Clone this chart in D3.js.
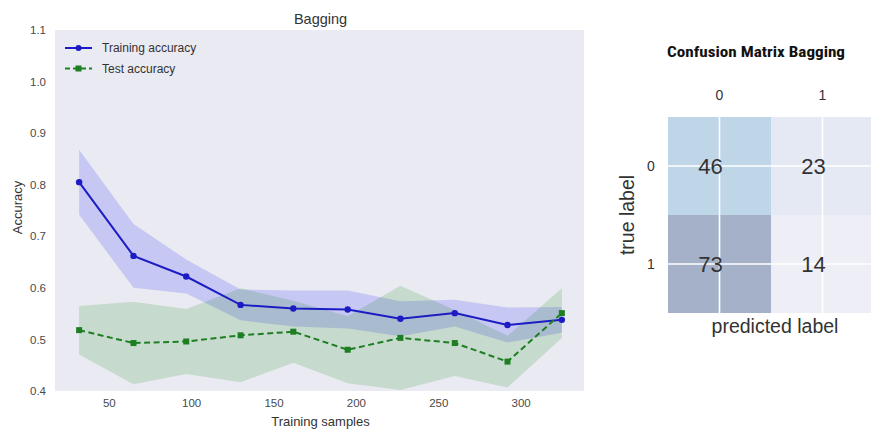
<!DOCTYPE html>
<html>
<head>
<meta charset="utf-8">
<script src="https://cdn.jsdelivr.net/npm/d3@7"></script>
<style>
  html, body { margin: 0; padding: 0; background: #ffffff; }
  svg { display: block; }
  text { font-family: "Liberation Sans", Arial, sans-serif; }
</style>
</head>
<body>
<svg id="chart" width="871" height="430"></svg>
<script>
// Learning curve data (training set size vs. accuracy)
const trainSizes = [32, 65, 97, 130, 162, 195, 227, 260, 292, 325];
const trainMean  = [0.805, 0.662, 0.622, 0.567, 0.560, 0.558, 0.540, 0.551, 0.528, 0.538];
const trainStd   = [0.063, 0.062, 0.033, 0.030, 0.035, 0.037, 0.034, 0.026, 0.034, 0.025];
const testMean   = [0.518, 0.493, 0.496, 0.508, 0.515, 0.480, 0.503, 0.493, 0.457, 0.551];
const testStd    = [0.047, 0.080, 0.063, 0.091, 0.060, 0.065, 0.101, 0.064, 0.050, 0.048];
const yTicks = [0.4, 0.5, 0.6, 0.7, 0.8, 0.9, 1.0, 1.1];
const xTicks = [50, 100, 150, 200, 250, 300];

// Confusion matrix
const classLabels = ["0", "1"];
const confusion = [
  [46, 23],
  [73, 14]
];

const svg = d3.select("#chart");
const facecolor = "#EAEAF2";
const tickColor = "#4a4a4a";

// ---------- Learning curve ----------
const plot = { left: 55, right: 584, top: 30, bottom: 391 };
const x = d3.scaleLinear().domain([17.35, 339.65]).range([plot.left, 586]);
const y = d3.scaleLinear().domain([0.4, 1.1]).range([plot.bottom, plot.top]);

svg.append("rect")
  .attr("x", plot.left).attr("y", plot.top)
  .attr("width", plot.right - plot.left).attr("height", plot.bottom - plot.top)
  .attr("fill", facecolor);

const trainData = trainSizes.map((s, i) => ({ s, m: trainMean[i], sd: trainStd[i] }));
const testData  = trainSizes.map((s, i) => ({ s, m: testMean[i], sd: testStd[i] }));

const band = d3.area()
  .x(d => x(d.s))
  .y0(d => y(d.m - d.sd))
  .y1(d => y(d.m + d.sd));
const line = d3.line().x(d => x(d.s)).y(d => y(d.m));

const trainColor = "#1c1cc4";
const testColor = "#1d7f22";

svg.append("path").datum(trainData).attr("d", band)
  .attr("fill", "#0000ff").attr("fill-opacity", 0.15);
svg.append("path").datum(testData).attr("d", band)
  .attr("fill", "#008000").attr("fill-opacity", 0.15);

svg.append("path").datum(trainData).attr("d", line)
  .attr("fill", "none").attr("stroke", trainColor).attr("stroke-width", 2);
svg.selectAll(".train-pt").data(trainData).enter().append("circle")
  .attr("cx", d => x(d.s)).attr("cy", d => y(d.m)).attr("r", 3.2)
  .attr("fill", trainColor);

svg.append("path").datum(testData).attr("d", line)
  .attr("fill", "none").attr("stroke", testColor).attr("stroke-width", 2)
  .attr("stroke-dasharray", "6,3.5");
svg.selectAll(".test-pt").data(testData).enter().append("rect")
  .attr("x", d => x(d.s) - 3).attr("y", d => y(d.m) - 3)
  .attr("width", 6).attr("height", 6)
  .attr("fill", testColor);

// Axes (no spines, no tick marks)
const yAxis = svg.append("g")
  .attr("transform", `translate(${plot.left},0)`)
  .call(d3.axisLeft(y).tickValues(yTicks).tickFormat(d3.format(".1f")).tickSize(0).tickPadding(9));
const xAxis = svg.append("g")
  .attr("transform", `translate(0,${plot.bottom})`)
  .call(d3.axisBottom(x).tickValues(xTicks).tickSize(0).tickPadding(8));
[xAxis, yAxis].forEach(g => {
  g.select(".domain").remove();
  g.selectAll("text").attr("fill", tickColor).style("font-size", "11.5px")
    .style("font-family", "'Liberation Sans', Arial, sans-serif");
});

svg.append("text")
  .attr("x", (plot.left + 586) / 2).attr("y", 24)
  .attr("text-anchor", "middle").attr("fill", "#333").style("font-size", "14.5px")
  .text("Bagging");
svg.append("text")
  .attr("x", (plot.left + 586) / 2).attr("y", 426)
  .attr("text-anchor", "middle").attr("fill", "#333").style("font-size", "13px")
  .text("Training samples");
svg.append("text")
  .attr("transform", `translate(22,${(plot.top + plot.bottom) / 2 - 3}) rotate(-90)`)
  .attr("text-anchor", "middle").attr("fill", "#333").style("font-size", "13px")
  .text("Accuracy");

// Legend
const legend = svg.append("g").attr("transform", "translate(65,48)");
const legendItems = [
  { label: "Training accuracy", color: trainColor, dash: null, marker: "circle" },
  { label: "Test accuracy", color: testColor, dash: "5,3", marker: "square" }
];
legendItems.forEach((it, i) => {
  const g = legend.append("g").attr("transform", `translate(0,${i * 20.5})`);
  g.append("line").attr("x1", 0).attr("x2", 27).attr("y1", 0).attr("y2", 0)
    .attr("stroke", it.color).attr("stroke-width", 2)
    .attr("stroke-dasharray", it.dash);
  if (it.marker === "circle") {
    g.append("circle").attr("cx", 13.5).attr("cy", 0).attr("r", 3).attr("fill", it.color);
  } else {
    g.append("rect").attr("x", 10.5).attr("y", -3).attr("width", 6).attr("height", 6).attr("fill", it.color);
  }
  g.append("text").attr("x", 37).attr("y", 4).attr("fill", "#333")
    .style("font-size", "12px").text(it.label);
});

// ---------- Confusion matrix ----------
const cm = { left: 668, top: 117, cellW: 103, cellH: 98 };
const cx = d3.scaleBand().domain(classLabels).range([cm.left, cm.left + 2 * cm.cellW]);
const cy = d3.scaleBand().domain(classLabels).range([cm.top, cm.top + 2 * cm.cellH]);
const flat = confusion.flatMap((row, i) => row.map((v, j) => ({ r: classLabels[i], c: classLabels[j], v })));
const vExt = d3.extent(flat, d => d.v);
const color = d3.scaleSequential(d3.interpolateBlues).domain(vExt);

const cmg = svg.append("g");
cmg.append("rect")
  .attr("x", cm.left).attr("y", cm.top)
  .attr("width", 2 * cm.cellW).attr("height", 2 * cm.cellH)
  .attr("fill", facecolor);
cmg.selectAll(".cell").data(flat).enter().append("rect")
  .attr("x", d => cx(d.c)).attr("y", d => cy(d.r))
  .attr("width", cx.bandwidth()).attr("height", cy.bandwidth())
  .attr("fill", d => color(d.v)).attr("fill-opacity", 0.3);

// white grid lines through the cell centres
classLabels.forEach(l => {
  cmg.append("line")
    .attr("x1", cx(l) + cx.bandwidth() / 2).attr("x2", cx(l) + cx.bandwidth() / 2)
    .attr("y1", cm.top).attr("y2", cm.top + 2 * cm.cellH)
    .attr("stroke", "#fff").attr("stroke-width", 1.6);
  cmg.append("line")
    .attr("y1", cy(l) + cy.bandwidth() / 2).attr("y2", cy(l) + cy.bandwidth() / 2)
    .attr("x1", cm.left).attr("x2", cm.left + 2 * cm.cellW)
    .attr("stroke", "#fff").attr("stroke-width", 1.6);
});

cmg.selectAll(".val").data(flat).enter().append("text")
  .attr("x", d => cx(d.c) + cx.bandwidth() / 2 - 9)
  .attr("y", d => cy(d.r) + cy.bandwidth() / 2)
  .attr("dy", "0.36em")
  .attr("text-anchor", "middle").attr("fill", "#333")
  .style("font-size", "22px")
  .text(d => d.v);

cmg.selectAll(".collab").data(classLabels).enter().append("text")
  .attr("x", d => cx(d) + cx.bandwidth() / 2).attr("y", 100)
  .attr("text-anchor", "middle").attr("fill", "#333").style("font-size", "14px")
  .text(d => d);
cmg.selectAll(".rowlab").data(classLabels).enter().append("text")
  .attr("x", 651).attr("y", d => cy(d) + cy.bandwidth() / 2).attr("dy", "0.36em")
  .attr("text-anchor", "middle").attr("fill", "#333").style("font-size", "14px")
  .text(d => d);

cmg.append("text")
  .attr("transform", `translate(634,${cm.top + cm.cellH}) rotate(-90)`)
  .attr("text-anchor", "middle").attr("fill", "#333").style("font-size", "19.5px")
  .text("true label");
cmg.append("text")
  .attr("x", 775).attr("y", 333)
  .attr("text-anchor", "middle").attr("fill", "#333").style("font-size", "19.5px")
  .text("predicted label");

cmg.append("text")
  .attr("x", 756).attr("y", 57)
  .attr("text-anchor", "middle").attr("fill", "#111")
  .style("font-family", "'Liberation Sans Narrow', 'Roboto Condensed', Roboto, sans-serif")
  .style("font-weight", "bold").style("font-size", "14px")
  .attr("textLength", 178).attr("lengthAdjust", "spacingAndGlyphs")
  .text("Confusion Matrix Bagging");
</script>
</body>
</html>
